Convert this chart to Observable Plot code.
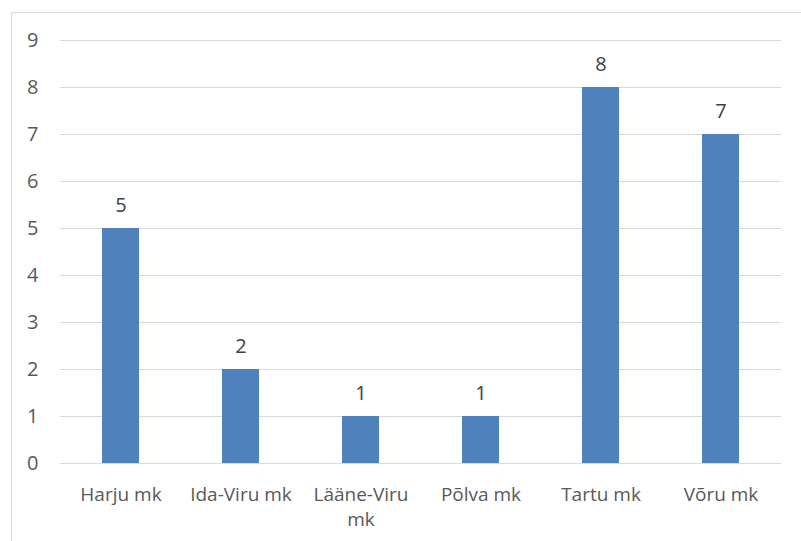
<!DOCTYPE html>
<html>
<head>
<meta charset="utf-8">
<script src="https://cdn.jsdelivr.net/npm/d3@7"></script>
<script src="https://cdn.jsdelivr.net/npm/@observablehq/plot@0.6"></script>
<style>
  html, body { margin: 0; padding: 0; background: #fff; }
  #wrap { position: relative; width: 801px; height: 541px; overflow: hidden; }
  #frame { position: absolute; left: 11px; top: 12px; width: 800px; height: 600px; border: 1px solid #d9d9d9; box-sizing: border-box; }
  #chart { position: absolute; left: 0; top: 0; }
</style>
</head>
<body>
<div id="wrap"><div id="frame"></div><div id="chart"></div></div>
<script>
const categories = ["Harju mk", "Ida-Viru mk", "Lääne-Viru mk", "Põlva mk", "Tartu mk", "Võru mk"];
const values = [5, 2, 1, 1, 8, 7];
const yTicks = [0, 1, 2, 3, 4, 5, 6, 7, 8, 9];

const data = categories.map((c, i) => ({category: c, value: values[i]}));

const chart = Plot.plot({
  width: 801,
  height: 541,
  marginLeft: 60,
  marginRight: 20,
  marginTop: 40,
  marginBottom: 78,
  style: {fontFamily: "'Open Sans', sans-serif", fontSize: "19px", color: "#595959", background: "transparent"},
  x: {domain: categories, paddingInner: 0.69, paddingOuter: 0.345, label: null},
  y: {domain: [0, 9], label: null},
  marks: [
    Plot.gridY(yTicks, {stroke: "#d9d9d9", strokeOpacity: 1, strokeWidth: 1}),
    Plot.axisY(yTicks, {tickSize: 0, tickPadding: 22, fill: "#595959", fontSize: 20, label: null}),
    Plot.axisX({tickSize: 0, tickPadding: 20, fill: "#595959", fontSize: 19, lineWidth: 6, lineHeight: 1.3, label: null}),
    Plot.barY(data, {x: "category", y: "value", fill: "#4f81bd"}),
    Plot.text(data, {x: "category", y: "value", text: d => String(d.value), dy: -17, lineAnchor: "bottom", fill: "#404040", fontSize: 20})
  ]
});
document.getElementById("chart").appendChild(chart);
</script>
</body>
</html>
